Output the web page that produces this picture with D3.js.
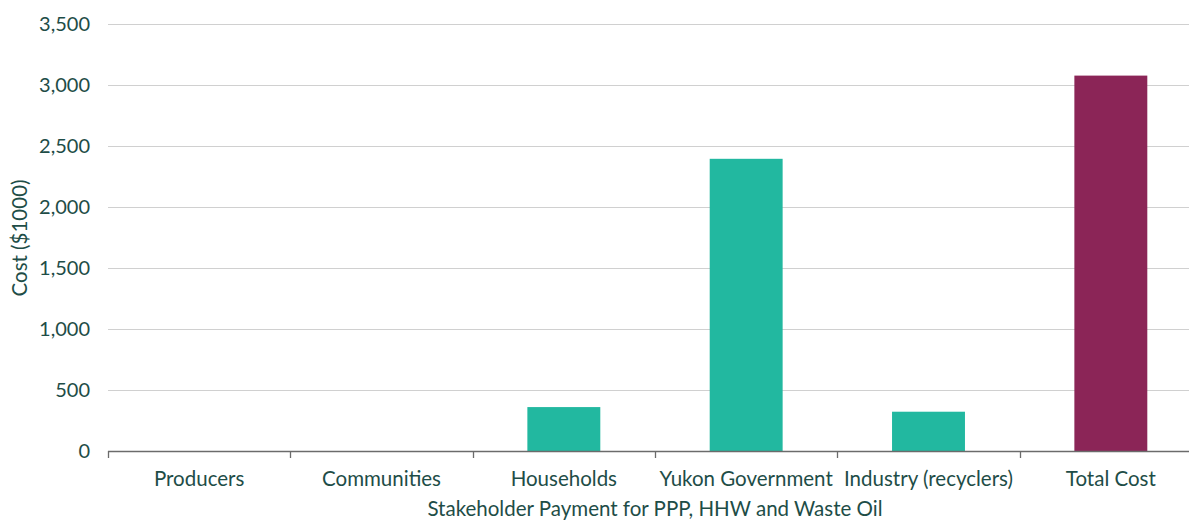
<!DOCTYPE html>
<html><head><meta charset="utf-8">
<script src="https://cdn.jsdelivr.net/npm/d3@7"></script>
<style>body{margin:0;background:#fff;} text{font-family:Lato, "Open Sans", sans-serif;}</style>
</head><body><svg id="c" width="1189" height="520"></svg>
<script>
const categories = ["Producers","Communities","Households","Yukon Government","Industry (recyclers)","Total Cost"];
const values = [0, 0, 360, 2395, 322, 3077];
const barColors = ["#22b8a0","#22b8a0","#22b8a0","#22b8a0","#22b8a0","#8b2557"];
const yTicks = [0,500,1000,1500,2000,2500,3000,3500];
const xTitle = "Stakeholder Payment for PPP, HHW and Waste Oil";
const yTitle = "Cost ($1000)";

(function(){
const svg = d3.select("#c");
const mLeft = 108, mRight = 1202, mTop = 24, mBottom = 451;
const textColor = "#1e4d47";
const fs = "20.5px";
const x = d3.scaleBand().domain(categories).range([mLeft, mRight]).paddingInner(0.6).paddingOuter(0.3);
const y = d3.scaleLinear().domain([0, 3500]).range([mBottom, mTop]);

// gridlines
svg.append("g").selectAll("line").data(yTicks.filter(d=>d>0)).join("line")
  .attr("x1", mLeft).attr("x2", 1189).attr("y1", d=>y(d)+0.5).attr("y2", d=>y(d)+0.5)
  .attr("stroke", "#d0d0d0").attr("stroke-width", 1);

// y axis labels
const yAxis = d3.axisLeft(y).tickValues(yTicks).tickSize(0).tickPadding(18).tickFormat(d3.format(","));
const gy = svg.append("g").attr("transform", `translate(${mLeft},0)`).call(yAxis);
gy.select(".domain").remove();
gy.selectAll("text").attr("fill", textColor).style("font-size","20px").style("font-family","Lato, sans-serif");

// bars
svg.append("g").selectAll("rect").data(values).join("rect")
  .attr("x", (d,i)=>x(categories[i])).attr("width", x.bandwidth())
  .attr("y", d=>y(d)).attr("height", d=>mBottom - y(d))
  .attr("fill", (d,i)=>barColors[i]);

// x axis line
svg.append("line").attr("x1", mLeft).attr("x2", 1189).attr("y1", mBottom+0.5).attr("y2", mBottom+0.5)
  .attr("stroke", "#6b6b6b").attr("stroke-width", 1.3);
// boundary ticks
const step = x.step();
const bounds = d3.range(categories.length+1).map(i => mLeft + i*step);
svg.append("g").selectAll("line").data(bounds.filter(b=>b<1189)).join("line")
  .attr("x1", d=>Math.round(d)+0.5).attr("x2", d=>Math.round(d)+0.5)
  .attr("y1", mBottom).attr("y2", mBottom+7).attr("stroke", "#6b6b6b").attr("stroke-width", 1.3);

// category labels
svg.append("g").selectAll("text").data(categories).join("text")
  .attr("x", d=>x(d)+x.bandwidth()/2).attr("y", 486)
  .attr("text-anchor","middle").attr("fill", textColor).style("font-size",fs).text(d=>d);

// axis titles
svg.append("text").attr("x", 655).attr("y", 516).attr("text-anchor","middle")
  .attr("fill", textColor).style("font-size",fs).text(xTitle);
svg.append("text").attr("transform","translate(27,238) rotate(-90)").attr("text-anchor","middle")
  .attr("fill", textColor).style("font-size",fs).text(yTitle);
})();
</script></body></html>
